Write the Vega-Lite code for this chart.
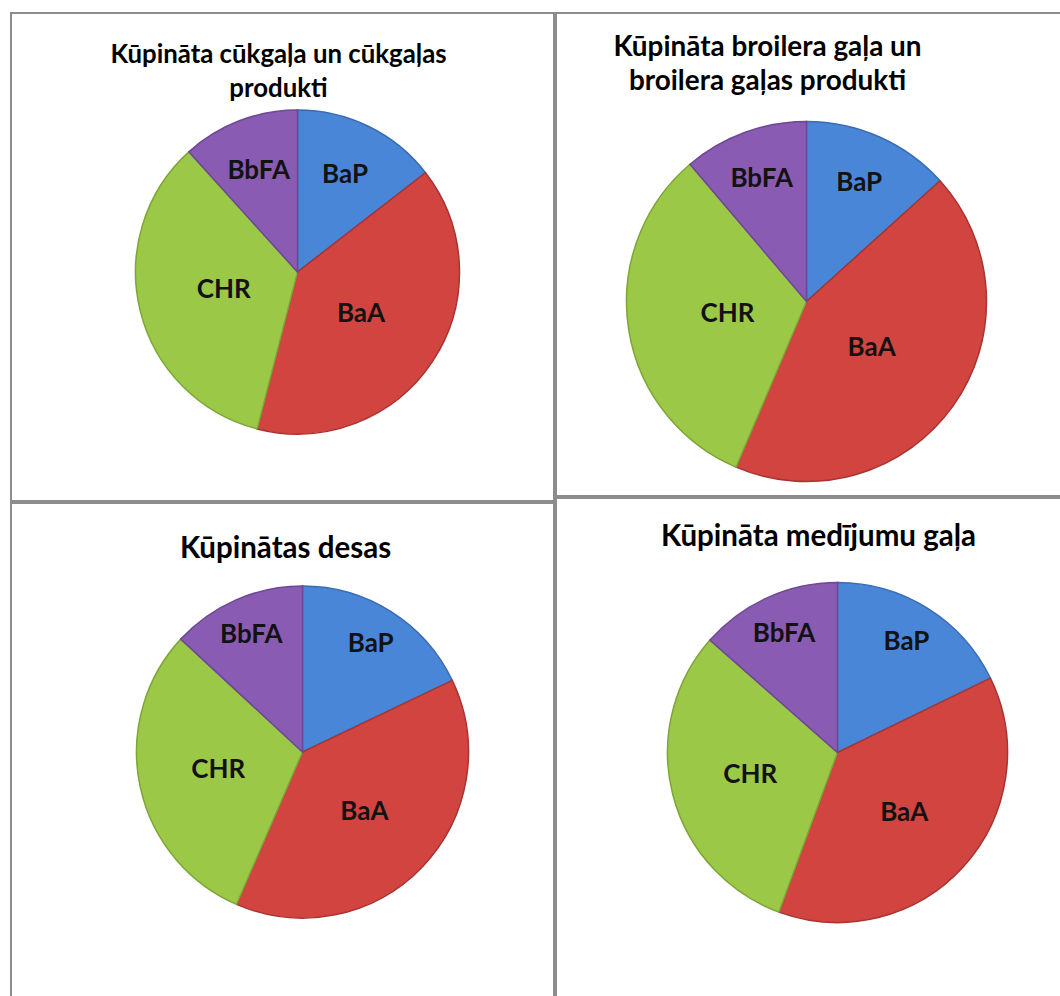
{
  "$schema": "https://vega.github.io/schema/vega-lite/v6.json",
  "background": "white",
  "padding": {"left": 10, "top": 12, "right": 0, "bottom": 0},
  "datasets": {
    "pah": [
      {"produkts": "cūkgaļa", "viela": "BaP", "dala": 14.5},
      {"produkts": "cūkgaļa", "viela": "BaA", "dala": 39.5},
      {"produkts": "cūkgaļa", "viela": "CHR", "dala": 34.3},
      {"produkts": "cūkgaļa", "viela": "BbFA", "dala": 11.7},
      {"produkts": "broileri", "viela": "BaP", "dala": 13.3},
      {"produkts": "broileri", "viela": "BaA", "dala": 43.1},
      {"produkts": "broileri", "viela": "CHR", "dala": 32.4},
      {"produkts": "broileri", "viela": "BbFA", "dala": 11.2},
      {"produkts": "desas", "viela": "BaP", "dala": 17.9},
      {"produkts": "desas", "viela": "BaA", "dala": 38.6},
      {"produkts": "desas", "viela": "CHR", "dala": 30.4},
      {"produkts": "desas", "viela": "BbFA", "dala": 13.1},
      {"produkts": "medījumi", "viela": "BaP", "dala": 17.8},
      {"produkts": "medījumi", "viela": "BaA", "dala": 37.8},
      {"produkts": "medījumi", "viela": "CHR", "dala": 30.9},
      {"produkts": "medījumi", "viela": "BbFA", "dala": 13.5}
    ]
  },
  "config": {
    "view": {"stroke": null},
    "title": {"font": "Lato", "fontWeight": "bold", "fontSize": 24, "color": "#000000", "lineHeight": 34, "baseline": "alphabetic", "anchor": "middle"},
    "text": {"font": "Lato", "fontWeight": "bold", "fontSize": 26},
    "rect": {"fill": "transparent", "stroke": "#8c8c8c", "strokeWidth": 2}
  },
  "hconcat": [
    {
      "spacing": 0,
      "vconcat": [
        {
          "width": 543, "height": 488,
          "title": {"text": ["Kūpināta cūkgaļa un cūkgaļas", "produkti"], "offset": -91, "dx": -4, "fontSize": 25.8},
          "data": {"name": "pah"},
          "transform": [
            {"filter": "datum.produkts === 'cūkgaļa'"},
            {"calculate": "indexof(['BaP', 'BaA', 'CHR', 'BbFA'], datum.viela)", "as": "secība"}
          ],
          "encoding": {
            "theta": {"field": "dala", "type": "quantitative", "stack": true},
            "order": {"field": "secība", "type": "quantitative"},
            "color": {"field": "viela", "type": "nominal", "scale": {"domain": ["BaP", "BaA", "CHR", "BbFA"], "range": ["#4a86d8", "#d24440", "#9cc848", "#8a5bb2"]}, "legend": null}
          },
          "layer": [
            {"mark": {"type": "rect"}, "encoding": {"color": {"value": "transparent"}, "order": {"value": 0}, "theta": null}},
            {"mark": {"type": "arc", "outerRadius": 162, "xOffset": 15, "yOffset": 15, "strokeWidth": 1.5},
             "encoding": {"stroke": {"field": "viela", "type": "nominal", "scale": {"domain": ["BaP", "BaA", "CHR", "BbFA"], "range": ["#3a6cb0", "#a83431", "#7ea538", "#6d4895"]}, "legend": null}}},
            {"mark": {"type": "text", "radius": 108, "xOffset": 15, "yOffset": 15},
             "encoding": {"fill": {"value": "#121212"}, "text": {"condition": {"test": "datum.viela === 'BaP' || datum.viela === 'BbFA'", "field": "viela"}, "value": ""}}},
            {"mark": {"type": "text", "radius": 76, "xOffset": 15, "yOffset": 15},
             "encoding": {"fill": {"value": "#121212"}, "text": {"condition": {"test": "datum.viela === 'BaA' || datum.viela === 'CHR'", "field": "viela"}, "value": ""}}}
          ]
        },
        {
          "width": 543, "height": 496,
          "title": {"text": "Kūpinātas desas", "offset": -62, "dx": 3, "fontSize": 29.5},
          "data": {"name": "pah"},
          "transform": [
            {"filter": "datum.produkts === 'desas'"},
            {"calculate": "indexof(['BaP', 'BaA', 'CHR', 'BbFA'], datum.viela)", "as": "secība"}
          ],
          "encoding": {
            "theta": {"field": "dala", "type": "quantitative", "stack": true},
            "order": {"field": "secība", "type": "quantitative"},
            "color": {"field": "viela", "type": "nominal", "scale": {"domain": ["BaP", "BaA", "CHR", "BbFA"], "range": ["#4a86d8", "#d24440", "#9cc848", "#8a5bb2"]}, "legend": null}
          },
          "layer": [
            {"mark": {"type": "rect"}, "encoding": {"color": {"value": "transparent"}, "order": {"value": 0}, "theta": null}},
            {"mark": {"type": "arc", "outerRadius": 166, "xOffset": 20, "yOffset": 1, "strokeWidth": 1.5},
             "encoding": {"stroke": {"field": "viela", "type": "nominal", "scale": {"domain": ["BaP", "BaA", "CHR", "BbFA"], "range": ["#3a6cb0", "#a83431", "#7ea538", "#6d4895"]}, "legend": null}}},
            {"mark": {"type": "text", "radius": 128, "xOffset": 20, "yOffset": 1},
             "encoding": {"fill": {"value": "#121212"}, "text": {"condition": {"test": "datum.viela === 'BaP' || datum.viela === 'BbFA'", "field": "viela"}, "value": ""}}},
            {"mark": {"type": "text", "radius": 86, "xOffset": 20, "yOffset": 1},
             "encoding": {"fill": {"value": "#121212"}, "text": {"condition": {"test": "datum.viela === 'BaA' || datum.viela === 'CHR'", "field": "viela"}, "value": ""}}}
          ]
        }
      ]
    },
    {
      "spacing": 0,
      "vconcat": [
        {
          "width": 507, "height": 483,
          "title": {"text": ["Kūpināta broilera gaļa un", "broilera gaļas produkti"], "offset": -84, "dx": -42, "fontSize": 27.9},
          "data": {"name": "pah"},
          "transform": [
            {"filter": "datum.produkts === 'broileri'"},
            {"calculate": "indexof(['BaP', 'BaA', 'CHR', 'BbFA'], datum.viela)", "as": "secība"}
          ],
          "encoding": {
            "theta": {"field": "dala", "type": "quantitative", "stack": true},
            "order": {"field": "secība", "type": "quantitative"},
            "color": {"field": "viela", "type": "nominal", "scale": {"domain": ["BaP", "BaA", "CHR", "BbFA"], "range": ["#4a86d8", "#d24440", "#9cc848", "#8a5bb2"]}, "legend": null}
          },
          "layer": [
            {"mark": {"type": "rect"}, "encoding": {"color": {"value": "transparent"}, "order": {"value": 0}, "theta": null}},
            {"mark": {"type": "arc", "outerRadius": 180, "xOffset": -3, "yOffset": 47, "strokeWidth": 1.5},
             "encoding": {"stroke": {"field": "viela", "type": "nominal", "scale": {"domain": ["BaP", "BaA", "CHR", "BbFA"], "range": ["#3a6cb0", "#a83431", "#7ea538", "#6d4895"]}, "legend": null}}},
            {"mark": {"type": "text", "radius": 130, "xOffset": -3, "yOffset": 47},
             "encoding": {"fill": {"value": "#121212"}, "text": {"condition": {"test": "datum.viela === 'BaP' || datum.viela === 'BbFA'", "field": "viela"}, "value": ""}}},
            {"mark": {"type": "text", "radius": 80, "xOffset": -3, "yOffset": 47},
             "encoding": {"fill": {"value": "#121212"}, "text": {"condition": {"test": "datum.viela === 'BaA' || datum.viela === 'CHR'", "field": "viela"}, "value": ""}}}
          ]
        },
        {
          "width": 507, "height": 501,
          "title": {"text": "Kūpināta medījumu gaļa", "offset": -55, "dx": 9, "fontSize": 29.5},
          "data": {"name": "pah"},
          "transform": [
            {"filter": "datum.produkts === 'medījumi'"},
            {"calculate": "indexof(['BaP', 'BaA', 'CHR', 'BbFA'], datum.viela)", "as": "secība"}
          ],
          "encoding": {
            "theta": {"field": "dala", "type": "quantitative", "stack": true},
            "order": {"field": "secība", "type": "quantitative"},
            "color": {"field": "viela", "type": "nominal", "scale": {"domain": ["BaP", "BaA", "CHR", "BbFA"], "range": ["#4a86d8", "#d24440", "#9cc848", "#8a5bb2"]}, "legend": null}
          },
          "layer": [
            {"mark": {"type": "rect"}, "encoding": {"color": {"value": "transparent"}, "order": {"value": 0}, "theta": null}},
            {"mark": {"type": "arc", "outerRadius": 170, "xOffset": 28, "yOffset": 4, "strokeWidth": 1.5},
             "encoding": {"stroke": {"field": "viela", "type": "nominal", "scale": {"domain": ["BaP", "BaA", "CHR", "BbFA"], "range": ["#3a6cb0", "#a83431", "#7ea538", "#6d4895"]}, "legend": null}}},
            {"mark": {"type": "text", "radius": 130, "xOffset": 28, "yOffset": 4},
             "encoding": {"fill": {"value": "#121212"}, "text": {"condition": {"test": "datum.viela === 'BaP' || datum.viela === 'BbFA'", "field": "viela"}, "value": ""}}},
            {"mark": {"type": "text", "radius": 90, "xOffset": 28, "yOffset": 4},
             "encoding": {"fill": {"value": "#121212"}, "text": {"condition": {"test": "datum.viela === 'BaA' || datum.viela === 'CHR'", "field": "viela"}, "value": ""}}}
          ]
        }
      ]
    }
  ],
  "spacing": 0
}
